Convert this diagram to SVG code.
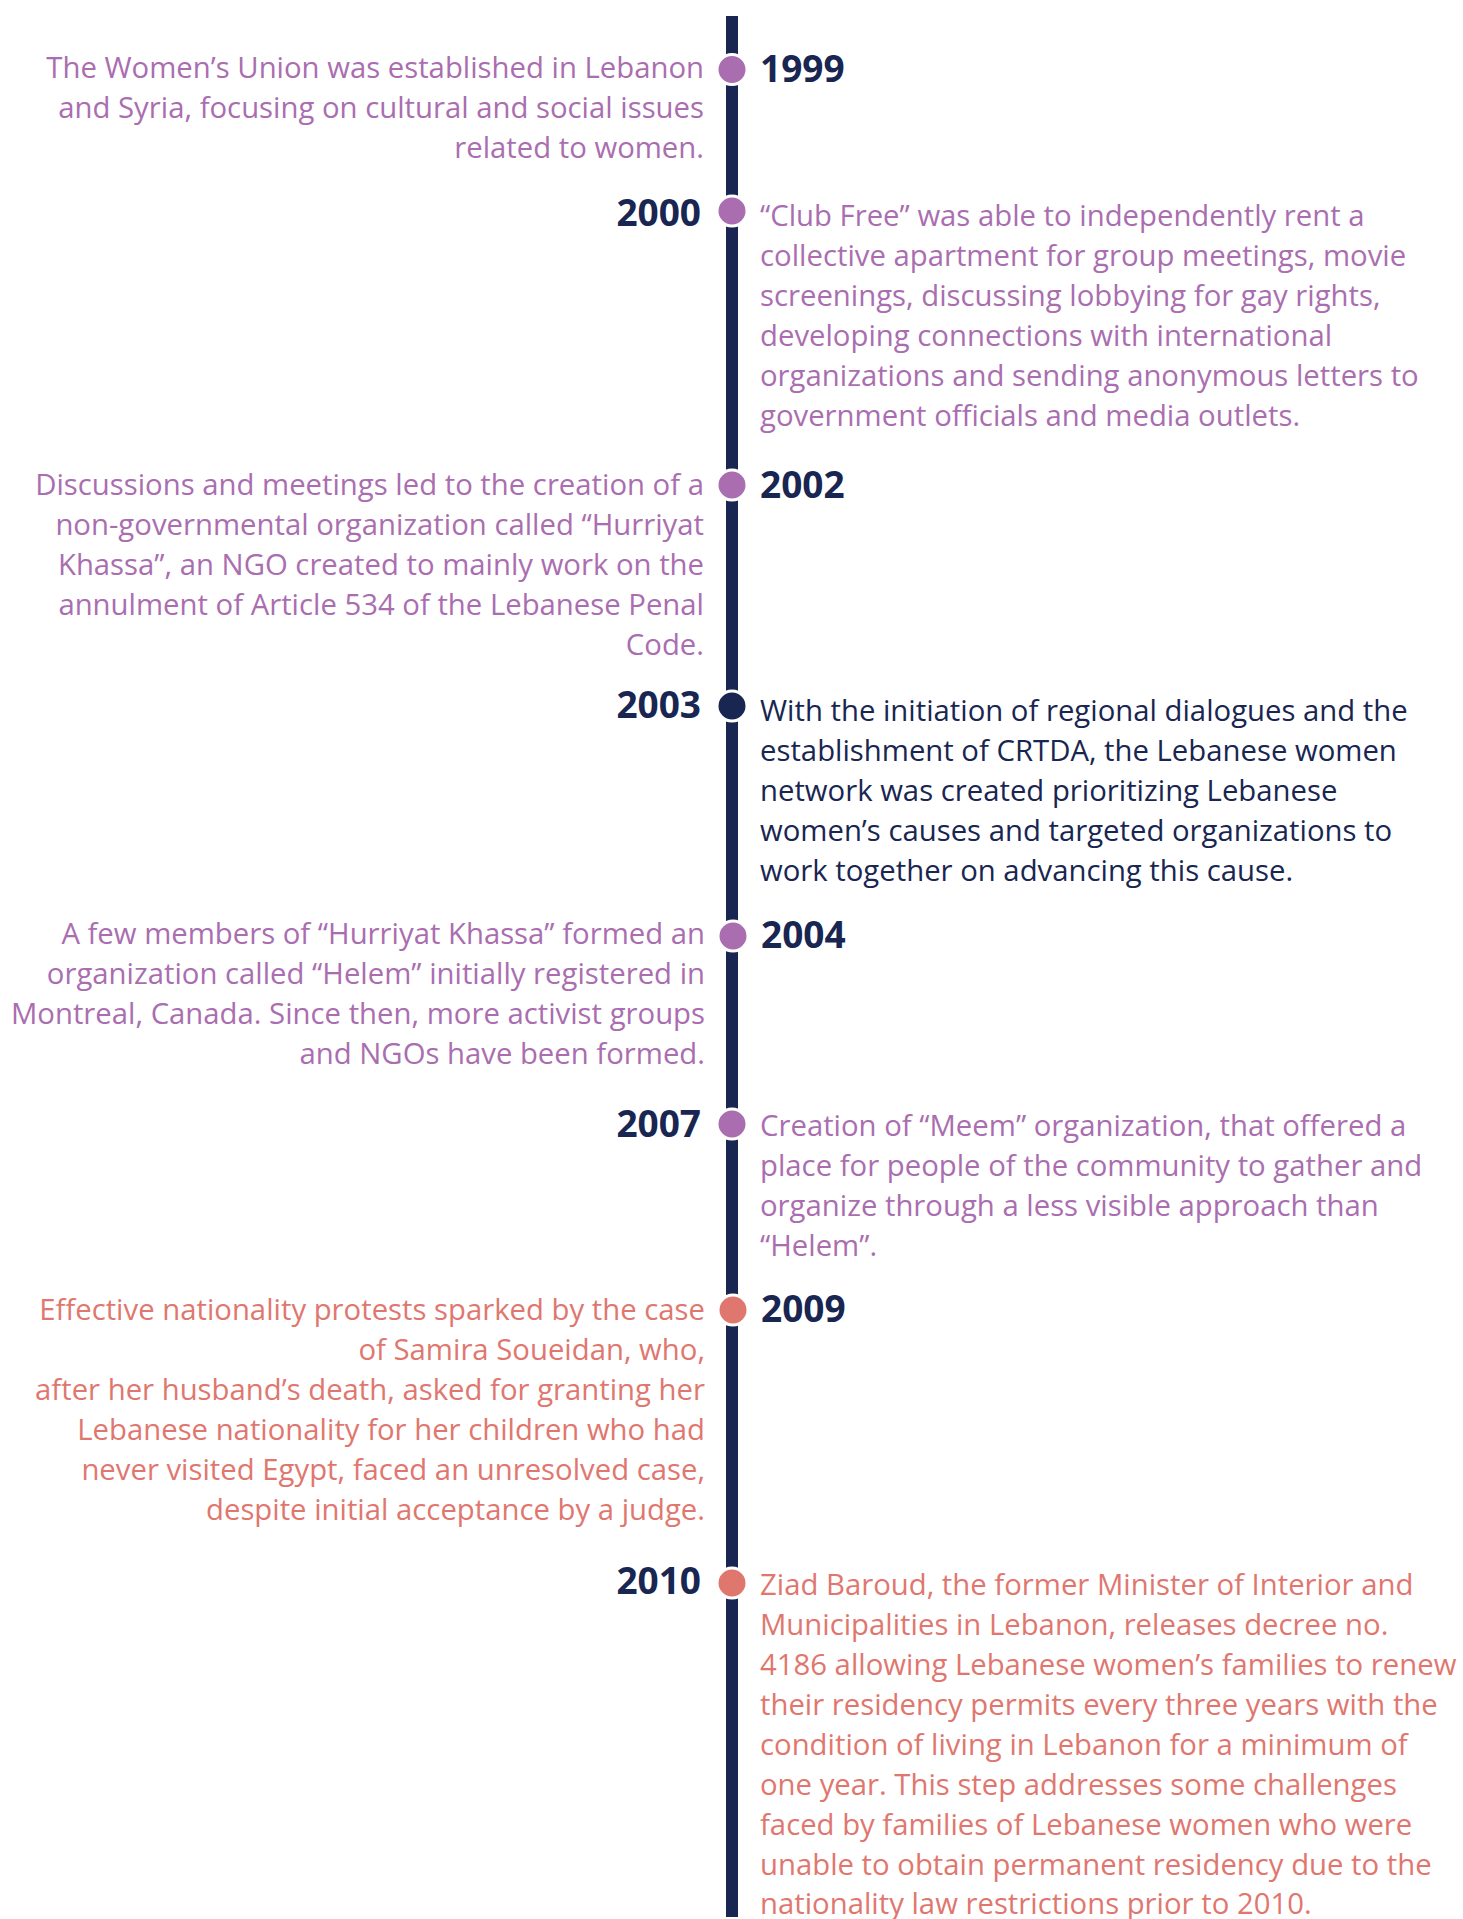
<svg xmlns="http://www.w3.org/2000/svg" width="1463" height="1919" viewBox="0 0 1463 1919">
<style>
text{font-family:"Open Sans","Noto Sans","Liberation Sans",sans-serif;font-size:29.3px}
.yr{font-weight:700;font-size:37px;fill:#182651}
.l{text-anchor:end}
.yl{text-anchor:end}
.pu{fill:#aa6eb0}
.nv{fill:#182651}
.co{fill:#e0776f}
.dot{stroke:#ffffff;stroke-width:3}
</style>
<rect width="1463" height="1919" fill="#ffffff"/>
<g id="connectors">
<rect x="726" y="16" width="12" height="1901" fill="#182651"/>
</g>
<g id="n1999">
<circle class="dot pu" cx="732" cy="69.5" r="15"/>
<text class="yr" x="760" y="82">1999</text>
<text class="l pu" x="704"><tspan x="704" y="78">The Women’s Union was established in Lebanon</tspan><tspan x="704" y="118">and Syria, focusing on cultural and social issues</tspan><tspan x="704" y="158">related to women.</tspan></text>
</g>
<g id="n2000">
<circle class="dot pu" cx="732" cy="211" r="15"/>
<text class="yr yl" x="701" y="226">2000</text>
<text class="pu" x="760"><tspan x="760" y="226">“Club Free” was able to independently rent a</tspan><tspan x="760" y="266">collective apartment for group meetings, movie</tspan><tspan x="760" y="306">screenings, discussing lobbying for gay rights,</tspan><tspan x="760" y="346">developing connections with international</tspan><tspan x="760" y="386">organizations and sending anonymous letters to</tspan><tspan x="760" y="426">government officials and media outlets.</tspan></text>
</g>
<g id="n2002">
<circle class="dot pu" cx="732" cy="485" r="15"/>
<text class="yr" x="760" y="498">2002</text>
<text class="l pu" x="704"><tspan x="704" y="495">Discussions and meetings led to the creation of a</tspan><tspan x="704" y="535">non-governmental organization called “Hurriyat</tspan><tspan x="704" y="575">Khassa”, an NGO created to mainly work on the</tspan><tspan x="704" y="615">annulment of Article 534 of the Lebanese Penal</tspan><tspan x="704" y="655">Code.</tspan></text>
</g>
<g id="n2003">
<circle class="dot nv" cx="732" cy="706" r="15"/>
<text class="yr yl" x="701" y="718">2003</text>
<text class="nv" x="760"><tspan x="760" y="721">With the initiation of regional dialogues and the</tspan><tspan x="760" y="761">establishment of CRTDA, the Lebanese women</tspan><tspan x="760" y="801">network was created prioritizing Lebanese</tspan><tspan x="760" y="841">women’s causes and targeted organizations to</tspan><tspan x="760" y="881">work together on advancing this cause.</tspan></text>
</g>
<g id="n2004">
<circle class="dot pu" cx="733" cy="936" r="15"/>
<text class="yr" x="761" y="948">2004</text>
<text class="l pu" x="705"><tspan x="705" y="944">A few members of “Hurriyat Khassa” formed an</tspan><tspan x="705" y="984">organization called “Helem” initially registered in</tspan><tspan x="705" y="1024">Montreal, Canada. Since then, more activist groups</tspan><tspan x="705" y="1064">and NGOs have been formed.</tspan></text>
</g>
<g id="n2007">
<circle class="dot pu" cx="732" cy="1124" r="15"/>
<text class="yr yl" x="701" y="1137">2007</text>
<text class="pu" x="760"><tspan x="760" y="1136">Creation of “Meem” organization, that offered a</tspan><tspan x="760" y="1176">place for people of the community to gather and</tspan><tspan x="760" y="1216">organize through a less visible approach than</tspan><tspan x="760" y="1256">“Helem”.</tspan></text>
</g>
<g id="n2009">
<circle class="dot co" cx="733" cy="1310" r="15"/>
<text class="yr" x="761" y="1322">2009</text>
<text class="l co" x="705"><tspan x="705" y="1320">Effective nationality protests sparked by the case</tspan><tspan x="705" y="1360">of Samira Soueidan, who,</tspan><tspan x="705" y="1400">after her husband’s death, asked for granting her</tspan><tspan x="705" y="1440">Lebanese nationality for her children who had</tspan><tspan x="705" y="1480">never visited Egypt, faced an unresolved case,</tspan><tspan x="705" y="1520">despite initial acceptance by a judge.</tspan></text>
</g>
<g id="n2010">
<circle class="dot co" cx="732" cy="1583" r="15"/>
<text class="yr yl" x="701" y="1594">2010</text>
<text class="co" x="760"><tspan x="760" y="1595">Ziad Baroud, the former Minister of Interior and</tspan><tspan x="760" y="1635">Municipalities in Lebanon, releases decree no.</tspan><tspan x="760" y="1675">4186 allowing Lebanese women’s families to renew</tspan><tspan x="760" y="1715">their residency permits every three years with the</tspan><tspan x="760" y="1755">condition of living in Lebanon for a minimum of</tspan><tspan x="760" y="1795">one year. This step addresses some challenges</tspan><tspan x="760" y="1835">faced by families of Lebanese women who were</tspan><tspan x="760" y="1875">unable to obtain permanent residency due to the</tspan><tspan x="760" y="1914">nationality law restrictions prior to 2010.</tspan></text>
</g>
</svg>
